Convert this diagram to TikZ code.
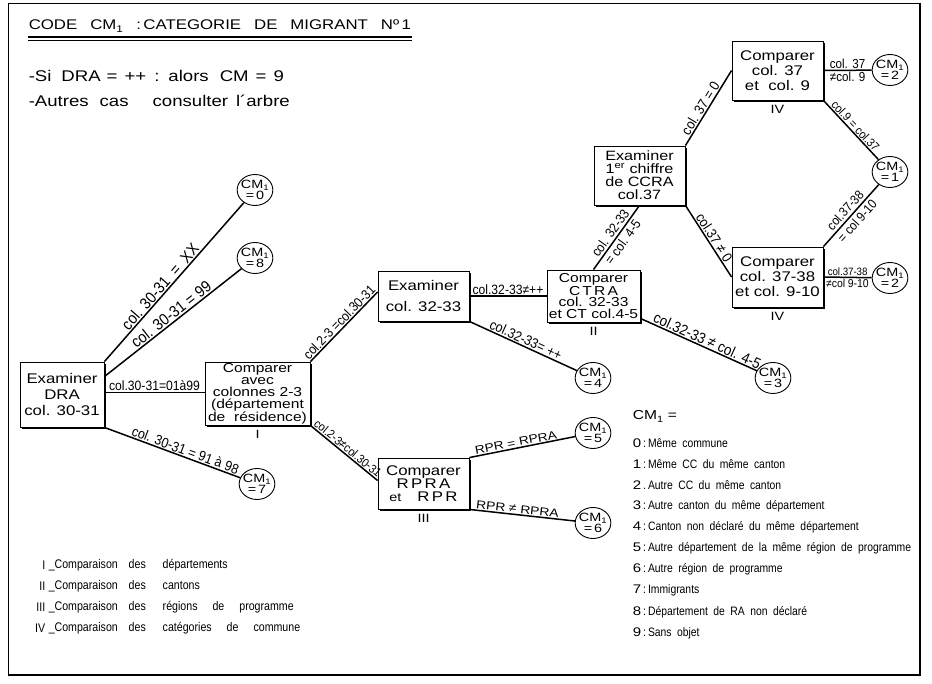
\documentclass[tikz,border=0pt]{standalone}
\usepackage{fontspec}
\setmainfont{Liberation Sans}
\newfontfamily\lettre[FakeStretch=1.2]{Liberation Sans}
\newfontfamily\etiq[FakeStretch=0.9]{Liberation Sans}
\newfontfamily\legende[FakeStretch=0.85,WordSpace=1.9]{Liberation Sans}
\usetikzlibrary{shapes.geometric,shadows}
\newcommand\fs[2]{\fontsize{#1}{#2}\selectfont}
\newcommand\esp{\hspace{15pt}}
\newcommand\blanc{\hspace{13pt}}

\begin{document}
\begin{tikzpicture}[x=1pt,y=-1pt,line width=1.5pt,
	boite/.style={draw,line width=0.9pt,fill=white,inner sep=0pt,align=center,
		drop shadow={shadow xshift=2pt,shadow yshift=-2pt,opacity=1,fill=black}},
	rond/.style={ellipse,draw,line width=0.9pt,fill=white,minimum width=35pt,minimum height=31pt,
		inner sep=-1.5pt,align=center,font=\lettre\fs{12}{11}},
	lab/.style={sloped,inner sep=1pt,font=\etiq\fs{13.5}{13.5}},
	num/.style={font=\lettre\fs{12}{12},inner sep=1pt}]
	\useasboundingbox (0,0) rectangle (932,684);
	
	\draw[line width=0.8pt] (8,675) -- (8,3) -- (920,3);
	\draw[line width=2.5pt] (920,3) -- (920,675) -- (8,675);
	
	\node[anchor=base west,inner sep=0pt,font=\lettre\fs{14}{14}] (titre) at (28,30) {CODE\blanc CM\textsubscript{1}\blanc:\,CATEGORIE\blanc DE\blanc MIGRANT\blanc Nº\,1};
	\draw[line width=1.6pt] ([yshift=-7pt]titre.base west) -- ([yshift=-7pt]titre.base east);
	\draw[line width=0.6pt] ([yshift=-10pt]titre.base west) -- ([yshift=-10pt]titre.base east);
	\node[anchor=base west,inner sep=0pt,font=\lettre\fs{15.5}{15.5}] (si) at (28,82) {-Si\hspace{10pt}DRA\hspace{6pt}=\hspace{7pt}++\hspace{8pt}:\hspace{9pt}alors\hspace{11pt}CM\hspace{7pt}=\hspace{7pt}9};
	\node[anchor=base west,inner sep=0pt,font=\lettre\fs{15.5}{15.5}] (autres) at (28,107) {-Autres\hspace{11pt}cas\hspace{24pt}consulter\hspace{8pt}l´arbre};
	
	\node[boite,minimum width=84pt,minimum height=65pt,font=\lettre\fs{14}{16}] (dra) at (62,394.5) {Examiner\\DRA\\col. 30-31};
	\node[boite,minimum width=105pt,minimum height=63pt,font=\lettre\fs{13}{12.3}] (compav) at (257.5,393.5) {Comparer\\avec\\colonnes 2-3\\(département\\de\ \ résidence)};
	\node[boite,minimum width=91pt,minimum height=50pt,font=\lettre\fs{14}{21}] (exa) at (423.5,296) {Examiner\\col. 32-33};
	\node[boite,minimum width=91pt,minimum height=51pt,font=\lettre\fs{14}{13}] (rpra) at (423.5,483.5) {Comparer\\R\,P\,R\,A\\{\fs{12}{13}et}\hspace{16pt}R\,P\,R};
	\node[boite,minimum width=93pt,minimum height=52pt,font=\lettre\fs{13}{11.7}] (ctra) at (593.5,296) {Comparer\\C\,T\,R\,A\\col. 32-33\\et CT col.4-5};
	\node[boite,minimum width=91pt,minimum height=59pt,font=\lettre\fs{13.5}{13}] (chif) at (639.5,175.5) {Examiner\\1\textsuperscript{er} chiffre\\de CCRA\\col.37};
	\node[boite,minimum width=91pt,minimum height=59pt,font=\lettre\fs{14}{15}] (cmpa) at (777.5,70.5) {Comparer\\col. 37\\et\ \ col. 9};
	\node[boite,minimum width=91pt,minimum height=60pt,font=\lettre\fs{14}{15}] (cmpb) at (777.5,277) {Comparer\\col. 37-38\\et col. 9-10};
	
	\node[num,anchor=north] (ri) at ([yshift=-3pt]compav.south) {I};
	\node[num,anchor=north] (rii) at ([yshift=-3pt]ctra.south) {II};
	\node[num,anchor=north] (riii) at ([yshift=-3pt]rpra.south) {III};
	\node[num,anchor=north] (riva) at ([yshift=-3pt]cmpa.south) {IV};
	\node[num,anchor=north] (rivb) at ([yshift=-3pt]cmpb.south) {IV};
	
	\node[rond] (c0) at (255,190) {CM\textsubscript{1}\\=\,0};
	\node[rond] (c8) at (255,258) {CM\textsubscript{1}\\=\,8};
	\node[rond] (c7) at (257,484) {CM\textsubscript{1}\\=\,7};
	\node[rond] (c4) at (593,378) {CM\textsubscript{1}\\=\,4};
	\node[rond] (c5) at (593,433) {CM\textsubscript{1}\\=\,5};
	\node[rond] (c6) at (593,523) {CM\textsubscript{1}\\=\,6};
	\node[rond] (c3) at (773,378) {CM\textsubscript{1}\\=\,3};
	\node[rond] (c2a) at (890,70) {CM\textsubscript{1}\\=\,2};
	\node[rond] (c1) at (890,172) {CM\textsubscript{1}\\=\,1};
	\node[rond] (c2b) at (890,278) {CM\textsubscript{1}\\=\,2};
	
	\draw (dra.north east) -- node[lab,above,pos=0.44,font=\etiq\fs{16}{16}]{col. 30-31\ \ =\ \ XX} (c0);
	\draw ([yshift=-15pt]dra.north east) -- node[lab,above,pos=0.52,font=\etiq\fs{16}{16}]{col. 30-31 = 99} (c8);
	\draw ([yshift=2pt]dra.east) -- node[lab,above]{col.30-31=01à99} ([yshift=2pt]dra.east -| compav.west);
	\draw (dra.south east) -- node[lab,above,pos=0.58,font=\etiq\fs{14}{14}]{col. 30-31 = 91 à 98} (c7);
	\draw (compav.north east) -- node[lab,above]{col.2-3 =col.30-31} ([yshift=4pt]exa.west);
	\draw (compav.south east) -- node[lab,above,font=\etiq\fs{12}{12}]{col.2-3≠col.30-31} ([yshift=3pt]rpra.west);
	\draw (exa.east) -- node[lab,above]{col.32-33≠++} (exa.east -| ctra.west);
	\draw (exa.south east) -- node[lab,above,font=\etiq\fs{14}{14}]{col.32-33= ++} (c4);
	\draw (rpra.north east) -- node[lab,above,pos=0.45,font=\lettre\fs{11.5}{11.5}]{RPR = RPRA} (c5);
	\draw (rpra.south east) -- node[lab,above,pos=0.45,font=\lettre\fs{11.5}{11.5}]{RPR ≠ RPRA} (c6);
	\draw (ctra.north) -- node[lab,above,inner sep=2pt,font=\etiq\fs{13.5}{13.5}]{col. 32-33} node[lab,below,inner sep=2pt,font=\etiq\fs{13.5}{13.5}]{= col. 4-5} (chif.south);
	\draw ([yshift=4pt]ctra.south east) -- node[lab,above,pos=0.55,font=\etiq\fs{15}{15}]{col.32-33 ≠ col. 4-5} (c3);
	\draw (chif.north east) -- node[lab,above,pos=0.45,font=\etiq\fs{14}{14}]{col. 37 = 0} (cmpa.west);
	\draw (chif.south east) -- node[lab,above,font=\etiq\fs{14}{14}]{col.37 ≠ 0} (cmpb.west);
	\draw (cmpa.east) -- node[lab,above,font=\etiq\fs{13}{13}]{col. 37} node[lab,below,font=\etiq\fs{13}{13}]{≠col. 9} (c2a);
	\draw (cmpa.south east) -- node[lab,above,font=\etiq\fs{12}{12}]{col.9 = col.37} (c1);
	\draw (cmpb.north east) -- node[lab,above,inner sep=2.5pt,font=\etiq\fs{13}{13}]{col.37-38} node[lab,below,inner sep=2.5pt,font=\etiq\fs{13}{13}]{= col 9-10} (c1);
	\draw (cmpb.east) -- node[lab,above,font=\etiq\fs{10.7}{10.7}]{col.37-38} node[lab,below,font=\etiq\fs{11.5}{11.5}]{≠col 9-10} (c2b);
	
	\node[anchor=base west,inner sep=0pt,font=\lettre\fs{13}{13}] (cmleg) at (632,420) {CM\textsubscript{1} =};
	\foreach \n/\s/\t [count=\i from 0] in {0/:/Même commune,1/:/Même CC du même canton,2/./Autre CC du même canton,
		3/:/Autre canton du même département,4/:/Canton non déclaré du même département,
		5/:/Autre département de la même région de programme,6/:/Autre région de programme,
		7/:/Immigrants,8/:/Département de RA non déclaré,9/:/Sans objet}
	\node[anchor=west,inner sep=0pt,font=\legende\fs{12.2}{12.2}] (leg\i) at (632,443+21.1*\i) {{\lettre\fs{12.5}{12.5}\n}\,\s\,\t};
	
	\foreach \r/\b [count=\i from 0] in {I/départements,II/cantons,III/régions\esp de\esp programme,IV/catégories\esp de\esp commune}
	{
		\node[anchor=east,inner sep=0pt,font=\legende\fs{12.5}{12.5}] (num\i) at (46,565+21*\i) {\r};
		\node[anchor=west,inner sep=0pt,font=\legende\fs{12.5}{12.5}] (comp\i) at (48,565+21*\i) {\makebox[80pt][l]{\_Comparaison}\makebox[34pt][l]{des}\b};
	}
\end{tikzpicture}
\end{document}
